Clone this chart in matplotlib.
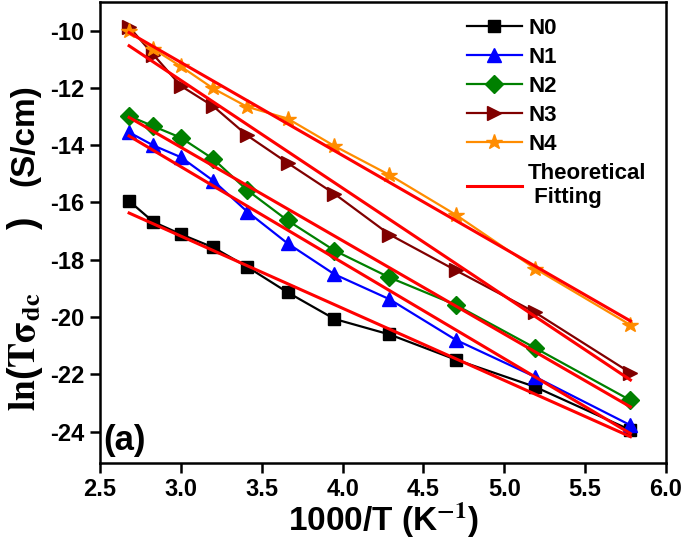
import matplotlib
matplotlib.use("Agg")
import matplotlib.pyplot as plt
import numpy as np

plt.rcParams['font.family'] = ['Liberation Sans', 'DejaVu Sans']
plt.rcParams['font.weight'] = 'bold'
plt.rcParams['mathtext.fontset'] = 'stix'

# 1000/T values (K^-1)
inv_T = [2.68, 2.83, 3.00, 3.20, 3.41, 3.66, 3.95, 4.29, 4.70, 5.19, 5.78]

# ln(T*sigma_dc) per sample
N0 = [-15.95, -16.68, -17.11, -17.57, -18.25, -19.14, -20.07, -20.61, -21.49, -22.44, -23.95]
N1 = [-13.55, -14.01, -14.42, -15.24, -16.32, -17.43, -18.51, -19.38, -20.80, -22.09, -23.78]
N2 = [-12.98, -13.34, -13.74, -14.48, -15.57, -16.63, -17.68, -18.62, -19.58, -21.08, -22.91]
N3 = [-9.87, -10.84, -11.93, -12.64, -13.66, -14.62, -15.70, -17.12, -18.37, -19.84, -21.95]
N4 = [-10.02, -10.64, -11.25, -12.02, -12.66, -13.07, -14.03, -15.04, -16.43, -18.31, -20.28]

series_labels = ["N0", "N1", "N2", "N3", "N4"]

# Theoretical fitting lines: values at the first and last 1000/T
fit_start = [-16.37, -13.68, -13.03, -10.53, -10.07]
fit_end = [-24.18, -24.07, -23.14, -22.20, -20.14]

x_ticks = [2.5, 3.0, 3.5, 4.0, 4.5, 5.0, 5.5, 6.0]
y_ticks = [-24, -22, -20, -18, -16, -14, -12, -10]

colors = ['black', '#0000FF', '#008000', '#800000', '#FF8C00']
markers = ['s', '^', 'D', '>', '*']
msizes = [8.5, 10, 9, 10.5, 11.5]

fig = plt.figure(figsize=(6.85, 5.42), dpi=100)
ax = fig.add_axes([100/685, 1 - 463/542, 566/685, 461/542])

data = [N0, N1, N2, N3, N4]
for y, c, m, ms, lab in zip(data, colors, markers, msizes, series_labels):
    ax.plot(inv_T, y, color=c, marker=m, markersize=ms, lw=1.6,
            markeredgecolor=c, label=lab, zorder=3)

fit_x = [inv_T[0], inv_T[-1]]
for i, (s, e) in enumerate(zip(fit_start, fit_end)):
    ax.plot(fit_x, [s, e], color='#FF0000', lw=2.2, zorder=4,
            label="Theoretical\n Fitting" if i == 0 else None)

ax.set_xlim(2.5, 6.0)
ax.set_ylim(-25.1, -9.0)
ax.set_xticks(x_ticks)
ax.set_yticks(y_ticks)
ax.set_xticklabels([f"{v:.1f}" for v in x_ticks])
ax.set_yticklabels([f"{v}" for v in y_ticks])

for sp in ax.spines.values():
    sp.set_linewidth(1.8)
ax.tick_params(direction='out', length=7, width=1.8, labelsize=17, pad=4)
for lbl in ax.get_xticklabels() + ax.get_yticklabels():
    lbl.set_fontweight('bold')

ax.set_xlabel(r"1000/T (K$^{\mathbf{-1}}$)", fontsize=24, fontweight='bold', labelpad=0)

# y label in two parts (larger serif "ln(Tσdc)" and sans "(S/cm)")
fig.text(25/685, 1 - 314/542, r"$\mathrm{ln}$($\mathrm{T\sigma_{dc}}$      )",
         rotation=90, ha='center', va='center', fontsize=27, fontweight='bold')
fig.text(25/685, 1 - 135/542, "(S/cm)", rotation=90, ha='center', va='center',
         fontsize=24, fontweight='bold')

ax.text(0.006, 0.012, "(a)", transform=ax.transAxes, fontsize=25,
        fontweight='bold', ha='left', va='bottom')

handles, labels = ax.get_legend_handles_labels()
leg = ax.legend(handles, labels,
                loc='upper left', bbox_to_anchor=(0.64, 0.975), frameon=False,
                handlelength=2.5, handletextpad=0.27,
                labelspacing=0.36, borderaxespad=0, borderpad=0.2,
                prop={'weight': 'bold', 'size': 16})

fig.savefig("out.png", dpi=100)
